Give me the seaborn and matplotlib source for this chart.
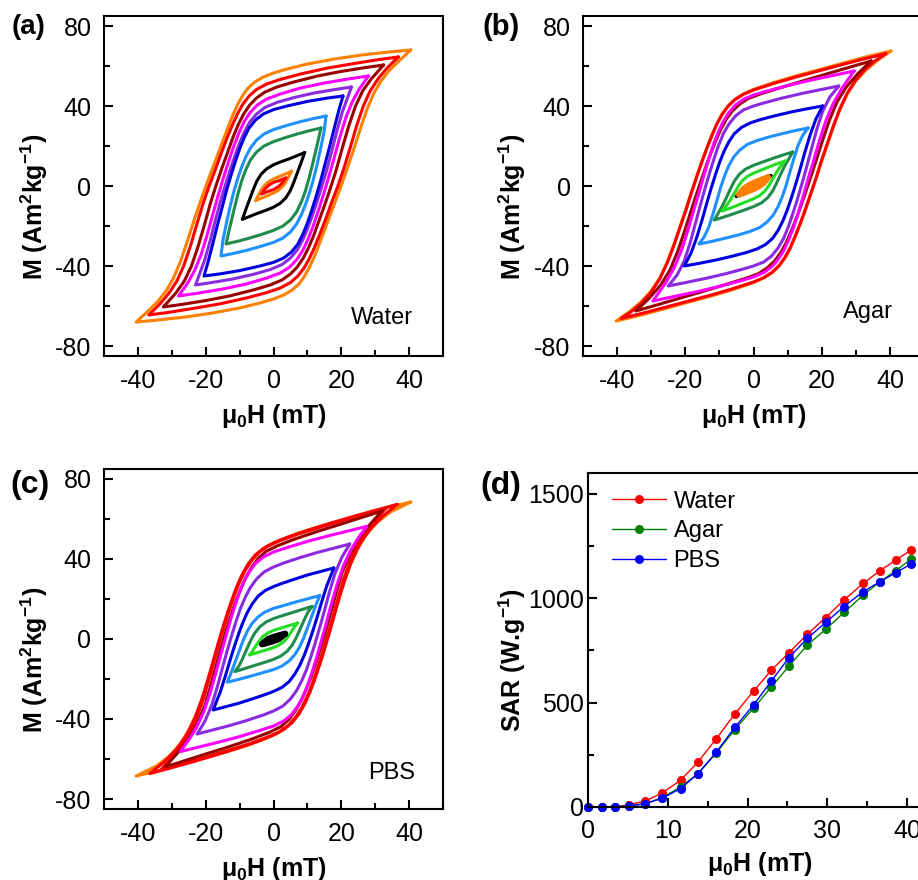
import numpy as np
import pandas as pd
import matplotlib
matplotlib.use("Agg")
import matplotlib.pyplot as plt
import seaborn as sns
from matplotlib.ticker import MultipleLocator

# ---------------------------------------------------------------------------
# Hysteresis loops: descending (upper) branch of each loop, from the positive
# tip (Hmax, Mmax) down to the negative tip.  The ascending branch is the
# point-symmetric image (-H, -M).  Fields in mT, magnetisation in Am2/kg.
# ---------------------------------------------------------------------------
ORANGE, RED, DARKRED = "#FF8000", "#FF0000", "#990000"
MAGENTA, PURPLE, BLUE = "#FF00FF", "#8A2BE2", "#0000E0"
LIGHTBLUE, GREEN, LIGHTGREEN, BLACK = "#1E90FF", "#1F8B4C", "#22DD22", "#000000"

WATER_COLORS = [ORANGE, RED, DARKRED, MAGENTA, PURPLE, BLUE, LIGHTBLUE, GREEN, BLACK, ORANGE, RED]
WATER_H = [
    [40.5, 34, 26, 18, 10, 4, 0, -3, -5.5, -7.5, -9, -10.5, -12, -13.5, -15.5, -17.5, -19.5,
     -21.5, -23.5, -25.5, -27.5, -29.5, -31.5, -34, -37, -40.5],
    [36.8, 31, 24, 16, 8, 2, -2, -5, -7.2, -9, -10.5, -12, -13.7, -15.5, -17.3, -19, -20.8,
     -22.6, -24.5, -26.5, -28.5, -30.8, -33.5, -36.8],
    [32.5, 27, 20, 13, 6, 1, -2.5, -5, -7, -8.8, -10.3, -11.8, -13.5, -15.2, -16.8, -18.5,
     -20.3, -22.2, -24.2, -26.3, -28.8, -32.5],
    [28, 22, 15, 8, 2, -2, -4.8, -7, -8.7, -10.2, -11.7, -13.2, -14.7, -16.2, -17.8, -19.5,
     -21.3, -23.2, -25.3, -28],
    [23, 18, 12, 6, 1, -2.5, -5, -7, -8.6, -10, -11.4, -12.8, -14.2, -15.7, -17.2, -18.7,
     -20.2, -21.7, -23],
    [20.5, 16, 10, 4, 0, -3, -5.3, -7.2, -8.7, -10, -11.3, -12.6, -13.9, -15.2, -16.6, -18,
     -19.3, -20.5],
    [15.5, 12, 8, 4, 0, -2.8, -5, -6.8, -8.2, -9.5, -10.7, -11.8, -12.9, -14, -14.9, -15.5],
    [14, 10.5, 7, 3.5, 0, -2.8, -5, -6.8, -8.2, -9.4, -10.5, -11.6, -12.8, -14],
    [9.2, 7, 4.5, 2, 0, -2, -3.6, -4.9, -5.9, -6.9, -8, -9.2],
    [5.3, 3.5, 1.5, 0, -1.5, -2.8, -3.9, -5.3],
    [3.6, 1.8, 0, -1.3, -2.4, -3.6],
]
WATER_M = [
    [68, 67, 65.5, 63.5, 61, 58.5, 56.5, 54.5, 52, 49, 45.5, 41, 35.5, 29, 20, 11, 2,
     -7.5, -17.5, -28, -38, -46, -52, -57.5, -62.5, -68],
    [64.5, 63.2, 61.3, 59, 56, 53.3, 51, 48.3, 45, 41, 36.5, 31, 24, 16, 7.5, 0, -9,
     -19, -30, -40, -47.5, -53.5, -59, -64.5],
    [60.5, 59.2, 57.3, 55, 52, 49.5, 47, 44, 40.5, 36, 31, 25, 17, 9, 1, -8,
     -19, -30, -40, -47.5, -53.5, -60.5],
    [55, 53.5, 51.5, 49, 46, 43.5, 40.5, 36.5, 32, 26.5, 20, 12.5, 4.5, -4, -13.5, -24,
     -34, -42, -48.5, -55],
    [49.5, 48.2, 46.5, 44.2, 41.8, 39.3, 36, 32, 27, 21.5, 15, 8, 0.5, -8, -17.5, -27.5,
     -36.5, -43.5, -49.5],
    [45, 44, 42.3, 40, 38.2, 36, 33, 29, 24, 18.5, 12, 5, -2.5, -11, -20, -29.5,
     -38, -45],
    [35, 33.8, 32.2, 30.3, 28.2, 26, 23, 19, 14.5, 9, 3, -3.5, -11, -19.5, -27, -35],
    [29, 27.6, 26, 24.2, 22.2, 20, 17, 13, 8, 2.5, -4, -11.5, -20, -29],
    [16.7, 15.2, 13.5, 12, 10.6, 8.6, 6, 2.5, -1.5, -6, -11, -16.7],
    [7.4, 6, 4.6, 3.5, 2.1, 0, -2.8, -7.4],
    [4, 2.8, 1.8, 0.5, -1.2, -4],
]

AGAR_COLORS = [ORANGE, RED, DARKRED, MAGENTA, PURPLE, BLUE, LIGHTBLUE, GREEN, LIGHTGREEN, BLACK, ORANGE]
AGAR_H = [
    [40.3, 34, 27, 20, 13, 6, 0, -3, -5.5, -7.5, -9.2, -10.8, -12.3, -13.8, -15.3, -16.8,
     -18.3, -19.8, -21.5, -23.3, -25.3, -27.5, -30, -33, -36.5, -40.3],
    [38.8, 33, 26, 19, 12, 6, 0, -3, -5.5, -7.5, -9.2, -10.8, -12.3, -13.8, -15.3, -16.8,
     -18.3, -19.8, -21.5, -23.3, -25.3, -27.5, -30, -32.8, -35.8, -38.8],
    [34.5, 29, 22, 15, 8, 2, -1.5, -4, -6.2, -8, -9.6, -11.1, -12.6, -14.1, -15.6, -17.1,
     -18.7, -20.4, -22.3, -24.5, -27.2, -30.5, -34.5],
    [29.5, 24, 17, 10, 4, 0, -3, -5.3, -7.2, -8.8, -10.3, -11.8, -13.2, -14.6, -16, -17.6,
     -19.3, -21.2, -23.3, -25.8, -29.5],
    [25, 20, 14, 8, 3, 0, -3, -5.3, -7.2, -8.8, -10.2, -11.5, -12.8, -14.1, -15.5, -17,
     -18.6, -20.3, -22.4, -25],
    [20.3, 16, 11, 6, 2, -1, -3.5, -5.6, -7.2, -8.6, -9.9, -11.1, -12.3, -13.6, -15, -16.6,
     -18.3, -20.3],
    [16, 12.5, 8.5, 4.5, 1, -1.8, -4, -5.8, -7.2, -8.4, -9.5, -10.6, -11.8, -13.1, -14.5, -16],
    [11.5, 9, 6, 3, 0, -2.3, -4.2, -5.6, -6.8, -8, -9.3, -10.5, -11.5],
    [9.3, 7, 4.5, 2, 0, -1.8, -3.3, -4.5, -5.6, -6.8, -8, -9.3],
    [5.1, 3.5, 1.5, 0, -1.5, -2.8, -4, -5.1],
    [4.2, 2.5, 0.5, -1.2, -2.8, -4.2],
]
AGAR_M = [
    [67.5, 65, 61.8, 58.5, 55.3, 51.8, 48.3, 46, 43.3, 40, 36, 31, 25, 18.5, 11.5, 4,
     -3.5, -11.5, -20, -29, -38, -46, -52.5, -58, -63, -67.5],
    [66.2, 63.8, 60.7, 57.5, 54.3, 51.3, 48, 45.8, 43.1, 39.8, 35.8, 30.8, 24.8, 18.3, 11.3, 3.8,
     -3.8, -12, -20.5, -29.5, -38.5, -46.5, -53, -58.5, -62.8, -66.2],
    [62.5, 59.8, 56.3, 52.8, 49.2, 46, 43.8, 41, 37.5, 33.3, 28.3, 22.5, 16, 9, 1.5, -6,
     -14.5, -23.5, -33, -42, -49.5, -56, -62.5],
    [57.5, 55.5, 53, 50.2, 47.5, 45.5, 43.3, 40.5, 36.8, 32.5, 27, 20.5, 13, 5, -3.5, -12.5,
     -22.5, -32.5, -41, -48.5, -57.5],
    [50, 48.3, 46.2, 43.8, 41.5, 40, 38, 35, 31, 26.3, 20.5, 14, 7, -0.5, -9, -18.5,
     -28.5, -37.5, -44.5, -50],
    [40, 38.7, 37, 35, 33.2, 31.5, 29.3, 26.2, 22.2, 17.5, 12, 6, -0.5, -8, -16.5, -25.5,
     -33.5, -40],
    [29, 27.8, 26.2, 24.5, 22.7, 20.8, 18, 14.5, 10.3, 5.5, 0, -6.5, -13.5, -20.5, -25.5, -29],
    [17, 15.7, 14, 12.2, 10.3, 8.5, 5.8, 2.5, -1.5, -6, -10.5, -14, -17],
    [12.5, 11.2, 9.5, 7.8, 6.4, 4.8, 2.6, -0.2, -3.5, -7, -10, -12.5],
    [5.3, 4.3, 3, 2, 0.7, -0.8, -2.8, -5.3],
    [4.3, 3.2, 1.8, 0.5, -1.3, -4.3],
]

PBS_COLORS = [ORANGE, RED, RED, DARKRED, MAGENTA, PURPLE, BLUE, LIGHTBLUE, GREEN, LIGHTGREEN, BLACK]
PBS_H = [
    [40.5, 35, 28, 21, 14, 7, 2, -1.5, -4.2, -6.5, -8.3, -9.9, -11.4, -12.8, -14.2, -15.6,
     -17.1, -18.7, -20.5, -22.5, -24.8, -27.5, -30.7, -34.5, -40.5],
    [36.5, 31, 24, 17, 10, 4, 0, -3, -5.5, -7.5, -9.2, -10.7, -12.1, -13.5, -14.9, -16.3,
     -17.8, -19.4, -21.2, -23.3, -25.8, -28.8, -32.3, -36.5],
    [33, 28, 21, 14, 7, 2, -1.5, -4.3, -6.6, -8.5, -10.1, -11.6, -13, -14.4, -15.8, -17.3,
     -18.9, -20.7, -22.8, -25.3, -28.5, -33],
    [32, 27, 20, 13, 6, 1, -2.2, -4.5, -6.4, -8.1, -9.6, -11.1, -12.5, -13.9, -15.3, -16.8,
     -18.4, -20.2, -22.4, -25, -28.2, -32],
    [27.5, 22, 16, 10, 4, 0, -3, -5.3, -7.2, -8.8, -10.2, -11.5, -12.8, -14.1, -15.5, -17,
     -18.7, -20.6, -22.8, -25, -27.5],
    [22.5, 18, 13, 8, 3, 0, -2.8, -5, -6.8, -8.3, -9.7, -11, -12.3, -13.6, -15, -16.5,
     -18.2, -20.2, -22.5],
    [17.8, 14, 10, 6, 2, 0, -2.5, -4.6, -6.3, -7.8, -9.1, -10.3, -11.5, -12.8, -14.2, -15.7,
     -17.8],
    [13.7, 10.5, 7, 3.5, 0, -2.5, -4.6, -6.3, -7.7, -8.9, -10, -11.2, -12.4, -13.6],
    [11.4, 8.5, 5.5, 2.5, 0, -2.2, -4.1, -5.6, -6.8, -8, -9.3, -10.3, -11.4],
    [7.1, 5, 2.8, 0.5, -1.5, -3.1, -4.3, -5.4, -6.3, -7.1],
    [3.4, 1.8, 0, -1.6, -3.4],
]
PBS_M = [
    [68.5, 66.3, 63, 59.8, 56.5, 52.8, 49.5, 46.8, 43.5, 39.3, 34.5, 29, 22.5, 15.5, 8, 0,
     -8.5, -17.5, -27, -36.5, -45, -52.5, -58.5, -63.5, -68.5],
    [67.3, 64.8, 61.5, 58, 54.3, 50.8, 48, 45.3, 41.8, 37.5, 32.5, 26.8, 20.5, 13.5, 6, -2,
     -11, -20.5, -30.5, -40, -48.5, -55.5, -61.5, -67.3],
    [65, 62.8, 59.5, 56, 52.3, 49.2, 46.6, 43.3, 39, 34, 28.3, 22, 15, 7.5, -0.5, -9.5,
     -19.5, -30, -40, -49, -56.5, -65],
    [64, 61.3, 57.5, 53.8, 49.8, 46.5, 43.8, 40.3, 36, 31, 25.3, 19, 12, 4.5, -3.5, -12.5,
     -22.5, -33, -42, -50, -56.8, -64],
    [56.3, 54, 51.5, 48.8, 45.7, 43.5, 41, 37.8, 33.5, 28.5, 22.5, 16, 8.8, 1, -7.5, -17,
     -27, -36.5, -44.5, -50.5, -56.3],
    [47.5, 45.5, 43.3, 40.8, 38, 36, 33.5, 30, 25.8, 21, 15.5, 9, 2, -5.5, -14, -23.5,
     -33, -41, -47.5],
    [35.5, 33.8, 32, 29.8, 27.5, 26.2, 24.2, 21.3, 17.5, 13, 8, 2.5, -3.5, -10.5, -18.5, -26.5,
     -35.5],
    [21.7, 20.3, 18.7, 17, 15.3, 13.5, 11, 7.8, 4, -0.5, -5.5, -11, -16.5, -21.6],
    [16.3, 14.8, 13.2, 11.6, 10.2, 8.5, 6, 2.8, -1, -5.5, -10.5, -13.8, -16.3],
    [8, 6.9, 5.8, 4.6, 3.2, 1.3, -1.2, -4, -6.3, -8],
    [2.6, 1.9, 1, 0, -2.6],
]

# ---------------------------------------------------------------------------
# Specific absorption rate versus field amplitude
# ---------------------------------------------------------------------------
SAR_FIELD = [0, 1.7, 3.4, 5.2, 7.2, 9.3, 11.6, 13.8, 16.1, 18.4, 20.8, 23.0,
             25.2, 27.5, 29.8, 32.1, 34.5, 36.6, 38.6, 40.5]
SAR_WATER = [0, 0, 0, 11, 29, 67, 128, 216, 328, 445, 557, 656, 739, 828, 907,
             992, 1071, 1132, 1183, 1231]
SAR_AGAR = [0, 0, 0, 5, 16, 45, 96, 160, 259, 371, 475, 576, 675, 776, 851,
            932, 1015, 1079, 1132, 1188]
SAR_PBS = [0, 0, 0, 5, 16, 42, 88, 160, 264, 381, 491, 604, 716, 808, 884,
           960, 1032, 1079, 1123, 1164]

# ---------------------------------------------------------------------------
sns.set_style("ticks")
plt.rcParams.update({
    "font.family": ["Liberation Sans", "DejaVu Sans"],
    "mathtext.fontset": "custom",
    "mathtext.rm": "Liberation Sans",
    "mathtext.bf": "Liberation Sans:bold",
    "mathtext.it": "Liberation Sans:italic",
    "axes.unicode_minus": False,
    "axes.edgecolor": "black",
    "axes.labelcolor": "black",
    "text.color": "black",
    "axes.linewidth": 1.5,
    "xtick.color": "black",
    "ytick.color": "black",
    "xtick.labelcolor": "black",
    "ytick.labelcolor": "black",
})

W, H = 918, 880
fig = plt.figure(figsize=(W / 100, H / 100), dpi=100)


def box(left, top, width, height):
    return [left / W, 1 - (top + height) / H, width / W, height / H]


XLAB = r"μ$_\mathbf{0}$H (mT)"
MLAB = r"M (Am$^\mathbf{2}$kg$^\mathbf{-1}$)"


def style_axes(ax, xmaj, xmin, ymaj, ymin, ypad=9):
    ax.xaxis.set_major_locator(MultipleLocator(xmaj))
    ax.xaxis.set_minor_locator(MultipleLocator(xmin))
    ax.yaxis.set_major_locator(MultipleLocator(ymaj))
    ax.yaxis.set_minor_locator(MultipleLocator(ymin))
    ax.tick_params(which="both", direction="in", top=False, right=False,
                   width=1.5, labelsize=18, colors="black")
    ax.tick_params(axis="x", pad=9)
    ax.tick_params(axis="y", pad=ypad)
    ax.tick_params(which="major", length=6.5)
    ax.tick_params(which="minor", length=4.5)
    for s in ax.spines.values():
        s.set_linewidth(1.5)
        s.set_color("black")


def draw_loops(ax, h_list, m_list, colors, filled_core):
    n = len(h_list)
    for i, (h, m, c) in enumerate(zip(h_list, m_list, colors)):
        h = np.asarray(h, float)
        m = np.asarray(m, float)
        df = pd.DataFrame({"H": np.concatenate([h, -h[1:]]),
                           "M": np.concatenate([m, -m[1:]])})
        lw = 4.5 if (filled_core and i == n - 1) else 2.2
        sns.lineplot(data=df, x="H", y="M", sort=False, estimator=None,
                     color=c, linewidth=lw, ax=ax, legend=False,
                     solid_joinstyle="round", solid_capstyle="round")
    ax.set_xlim(-50, 50)
    ax.set_ylim(-85, 85)
    style_axes(ax, 20, 10, 40, 20)
    ax.set_xlabel(XLAB, fontsize=18, fontweight="bold")
    ax.set_ylabel(MLAB, fontsize=18, fontweight="bold")
    ax.xaxis.set_label_coords(0.5, -0.135)
    ax.yaxis.set_label_coords(-0.16, 0.438)


ax_a = fig.add_axes(box(104, 16, 339, 340))
draw_loops(ax_a, WATER_H, WATER_M, WATER_COLORS, False)
ax_a.text(0.912, 0.094, "Water", transform=ax_a.transAxes, ha="right",
          va="baseline", fontsize=17)

ax_b = fig.add_axes(box(583, 16, 341, 340))
draw_loops(ax_b, AGAR_H, AGAR_M, AGAR_COLORS, True)
ax_b.text(0.909, 0.112, "Agar", transform=ax_b.transAxes, ha="right",
          va="baseline", fontsize=17)

ax_c = fig.add_axes(box(104, 469, 339, 340))
draw_loops(ax_c, PBS_H, PBS_M, PBS_COLORS, True)
ax_c.text(0.917, 0.088, "PBS", transform=ax_c.transAxes, ha="right",
          va="baseline", fontsize=17)

ax_d = fig.add_axes(box(588, 473, 335, 334))
sar = pd.DataFrame({
    "field": SAR_FIELD * 3,
    "sar": SAR_WATER + SAR_AGAR + SAR_PBS,
    "medium": ["Water"] * len(SAR_FIELD) + ["Agar"] * len(SAR_FIELD) + ["PBS"] * len(SAR_FIELD),
})
sns.lineplot(data=sar, x="field", y="sar", hue="medium",
             palette={"Water": "#FF0000", "Agar": "#008000", "PBS": "#0000FF"},
             marker="o", markersize=6.5, markeredgewidth=0, linewidth=1.0,
             sort=False, estimator=None, ax=ax_d, clip_on=False)
ax_d.set_xlim(0, 42)
ax_d.set_ylim(0, 1600)
style_axes(ax_d, 10, 5, 500, 250, ypad=3)
ax_d.set_xlabel(XLAB, fontsize=18, fontweight="bold")
ax_d.set_ylabel(r"SAR (W.g$^\mathbf{-1}$)", fontsize=18, fontweight="bold")
ax_d.xaxis.set_label_coords(0.513, -0.13)
ax_d.yaxis.set_label_coords(-0.18, 0.44)
handles, labels = ax_d.get_legend_handles_labels()
ax_d.legend(handles, labels, loc="upper left", frameon=False, fontsize=17,
            bbox_to_anchor=(0.072, 0.947), borderaxespad=0, borderpad=0,
            handlelength=2.3, handletextpad=0.3, labelspacing=0.32)

for txt, x, y, fs in [("(a)", 12, 27, 20), ("(b)", 483, 27, 21),
                      ("(c)", 10, 485, 23), ("(d)", 480, 486, 23)]:
    fig.text(x / W, 1 - y / H, txt, fontsize=fs, fontweight="bold",
             ha="left", va="center")

fig.savefig("out.png", dpi=100)
